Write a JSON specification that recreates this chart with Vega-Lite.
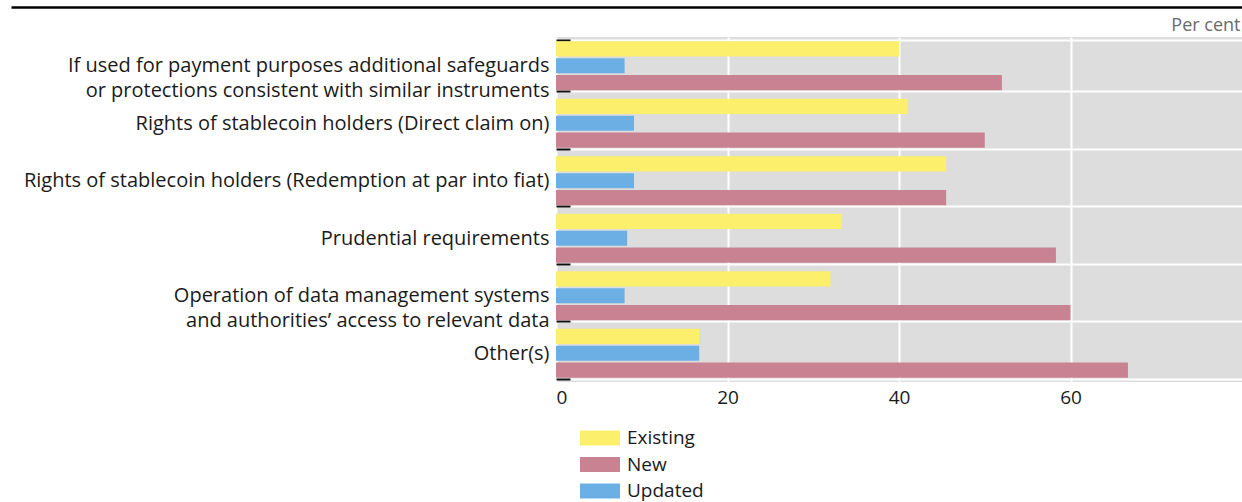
{
  "$schema": "https://vega.github.io/schema/vega-lite/v6.json",
  "width": 686,
  "height": 345,
  "autosize": {"type": "none"},
  "padding": {"left": 556, "top": 37, "right": 0, "bottom": 120},
  "background": "white",
  "data": {
    "values": [
      {"category": "If used for payment purposes additional safeguards|or protections consistent with similar instruments", "series": "Existing", "value": 40.0},
      {"category": "If used for payment purposes additional safeguards|or protections consistent with similar instruments", "series": "Updated", "value": 8.0},
      {"category": "If used for payment purposes additional safeguards|or protections consistent with similar instruments", "series": "New", "value": 52.0},
      {"category": "Rights of stablecoin holders (Direct claim on)", "series": "Existing", "value": 41.0},
      {"category": "Rights of stablecoin holders (Direct claim on)", "series": "Updated", "value": 9.1},
      {"category": "Rights of stablecoin holders (Direct claim on)", "series": "New", "value": 50.0},
      {"category": "Rights of stablecoin holders (Redemption at par into fiat)", "series": "Existing", "value": 45.5},
      {"category": "Rights of stablecoin holders (Redemption at par into fiat)", "series": "Updated", "value": 9.1},
      {"category": "Rights of stablecoin holders (Redemption at par into fiat)", "series": "New", "value": 45.5},
      {"category": "Prudential requirements", "series": "Existing", "value": 33.3},
      {"category": "Prudential requirements", "series": "Updated", "value": 8.3},
      {"category": "Prudential requirements", "series": "New", "value": 58.3},
      {"category": "Operation of data management systems|and authorities’ access to relevant data", "series": "Existing", "value": 32.0},
      {"category": "Operation of data management systems|and authorities’ access to relevant data", "series": "Updated", "value": 8.0},
      {"category": "Operation of data management systems|and authorities’ access to relevant data", "series": "New", "value": 60.0},
      {"category": "Other(s)", "series": "Existing", "value": 16.7},
      {"category": "Other(s)", "series": "Updated", "value": 16.7},
      {"category": "Other(s)", "series": "New", "value": 66.7}
    ]
  },
  "layer": [
    {
      "mark": {"type": "bar"},
      "encoding": {
        "y": {
          "field": "category",
          "type": "nominal",
          "sort": null,
          "scale": {"paddingInner": 0.12, "paddingOuter": 0.06},
          "axis": {
            "title": null,
            "labelExpr": "split(datum.label, '|')",
            "labelFont": "Open Sans",
            "labelFontSize": 20,
            "labelColor": "#1a1a1a",
            "labelLimit": 600,
            "labelLineHeight": 25,
            "tickBand": "extent",
            "tickSize": -14,
            "tickColor": "#111111",
            "tickWidth": 2,
            "labelPadding": 21,
            "domain": false,
            "grid": true,
            "gridColor": "white",
            "gridWidth": 2
          }
        },
        "yOffset": {
          "field": "series",
          "type": "nominal",
          "sort": ["Existing", "Updated", "New"],
          "scale": {"paddingInner": 0.1, "paddingOuter": 0.05}
        },
        "x": {
          "field": "value",
          "type": "quantitative",
          "scale": {"domain": [0, 80], "nice": false},
          "axis": {
            "title": null,
            "values": [0, 20, 40, 60],
            "labelFont": "Open Sans",
            "labelFontSize": 19,
            "labelColor": "#1a1a1a",
            "labelPadding": 6,
            "ticks": false,
            "domain": false,
            "grid": true,
            "gridColor": "white",
            "gridWidth": 2
          }
        },
        "color": {
          "field": "series",
          "type": "nominal",
          "scale": {"domain": ["Existing", "New", "Updated"], "range": ["#fbef6b", "#c98291", "#6cafe4"]},
          "legend": {
            "title": null,
            "orient": "none",
            "legendX": 34,
            "legendY": 391,
            "direction": "vertical",
            "symbolType": "M-2,-0.75H2V0.75H-2Z",
            "symbolSize": 400,
            "symbolStrokeWidth": 0,
            "labelFont": "Open Sans",
            "labelFontSize": 19,
            "labelColor": "#1a1a1a",
            "rowPadding": 6.5,
            "labelOffset": 17,
            "padding": 0
          }
        }
      }
    },
    {
      "mark": {"type": "rule", "opacity": 0},
      "encoding": {
        "x": {
          "datum": 0,
          "type": "quantitative",
          "scale": {"domain": [0, 80], "range": [-545, 686]},
          "axis": {
            "orient": "top",
            "offset": 30,
            "domain": true,
            "domainColor": "#000000",
            "domainWidth": 2.5,
            "labels": false,
            "ticks": false,
            "grid": false,
            "title": "Per cent",
            "titleFont": "Open Sans",
            "titleFontSize": 18,
            "titleFontWeight": "normal",
            "titleColor": "#6a6a6a",
            "titleX": 684,
            "titleY": 23,
            "titleAlign": "right",
            "titleAnchor": null,
            "titleBaseline": "alphabetic"
          }
        }
      }
    }
  ],
  "resolve": {"scale": {"x": "independent"}},
  "config": {
    "view": {"fill": "#dddddd", "stroke": null}
  }
}
